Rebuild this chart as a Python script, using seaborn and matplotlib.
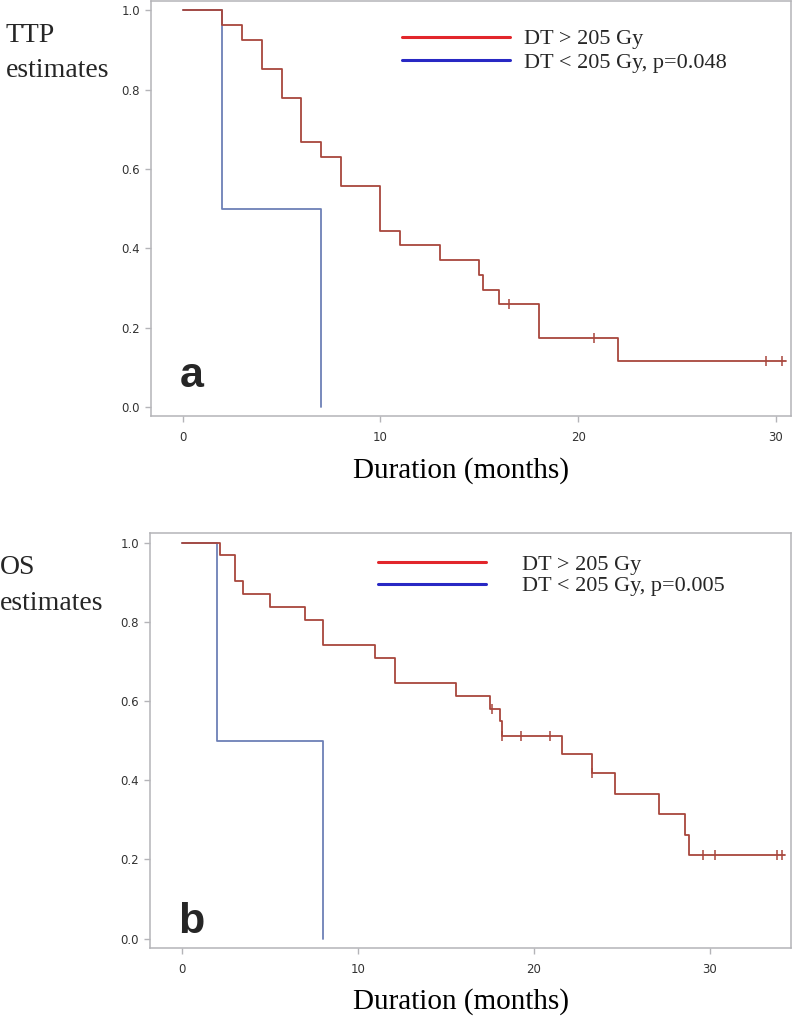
import numpy as np
import pandas as pd
import matplotlib
matplotlib.use("Agg")
import matplotlib.pyplot as plt
import seaborn as sns
from matplotlib.lines import Line2D

# TTP, DT > 205 Gy (Kaplan-Meier steps)
ttp_hi_time = [0, 2, 3, 4, 5, 6, 7, 8, 10, 11, 13, 15, 15.2, 16, 18, 22, 30.5]
ttp_hi_surv = [1.0, 0.963, 0.926, 0.852, 0.778, 0.667, 0.630, 0.556, 0.444,
               0.407, 0.370, 0.333, 0.296, 0.259, 0.173, 0.115, 0.115]
ttp_hi_cens_time = [16.5, 20.8, 29.5, 30.3]
ttp_hi_cens_surv = [0.259, 0.173, 0.115, 0.115]
# TTP, DT < 205 Gy
ttp_lo_time = [0, 2, 7]
ttp_lo_surv = [1.0, 0.5, 0.0]

# OS, DT > 205 Gy
os_hi_time = [0, 2.2, 3.0, 3.5, 5.0, 7.0, 8.0, 11.0, 12.1, 15.6, 17.5, 18.1,
              18.2, 21.6, 23.3, 24.6, 27.1, 28.6, 28.8, 34.3]
os_hi_surv = [1.0, 0.968, 0.903, 0.871, 0.839, 0.806, 0.742, 0.710, 0.645,
              0.613, 0.581, 0.549, 0.513, 0.467, 0.419, 0.366, 0.314, 0.261,
              0.210, 0.210]
os_hi_cens_time = [17.6, 18.2, 19.3, 20.9, 23.3, 29.6, 30.3, 33.8, 34.1]
os_hi_cens_surv = [0.581, 0.513, 0.513, 0.513, 0.419, 0.210, 0.210, 0.210, 0.210]
# OS, DT < 205 Gy
os_lo_time = [0, 2, 8]
os_lo_surv = [1.0, 0.5, 0.0]

legend_labels_ttp = ["DT > 205 Gy", "DT < 205 Gy, p=0.048"]
legend_labels_os = ["DT > 205 Gy", "DT < 205 Gy, p=0.005"]

sns.set_theme(style="ticks")
plt.rcParams['font.family'] = ['DejaVu Sans']

red_curve = "#A8473D"
blue_curve = "#6D80B6"
spine_col = "#B4B4B8"
serif = "Liberation Serif"

fig = plt.figure(figsize=(7.93, 10.18), dpi=100)
ax1 = fig.add_axes([0.1904, 0.5914, 0.8067, 0.4077])
ax2 = fig.add_axes([0.1892, 0.0691, 0.8080, 0.4070])


def km_panel(ax, hi_t, hi_s, ct, cs, lo_t, lo_s, xmax, xticks):
    hi = pd.DataFrame({"time": hi_t, "surv": hi_s})
    lo = pd.DataFrame({"time": lo_t, "surv": lo_s})
    cens = pd.DataFrame({"time": ct, "surv": cs})
    sns.lineplot(data=lo, x="time", y="surv", ax=ax, color=blue_curve, lw=1.3,
                 drawstyle="steps-post", estimator=None, sort=False)
    sns.lineplot(data=hi, x="time", y="surv", ax=ax, color=red_curve, lw=1.3,
                 drawstyle="steps-post", estimator=None, sort=False)
    sns.scatterplot(data=cens, x="time", y="surv", ax=ax, marker="|", s=45,
                    color=red_curve, linewidth=1.1)
    ax.set_xlim(xmax[0], xmax[1])
    ax.set_ylim(-0.023, 1.024)
    ax.set_xticks(xticks)
    ax.set_yticks([0, 0.2, 0.4, 0.6, 0.8, 1.0])
    ax.set_yticklabels(["0.0", "0.2", "0.4", "0.6", "0.8", "1.0"])
    ax.tick_params(axis="both", colors=spine_col, labelcolor="#333333",
                   labelsize=8.5, length=4.5, width=1)
    ax.tick_params(axis="x", pad=6.5)
    ax.tick_params(axis="y", pad=3.5)
    for sp in ax.spines.values():
        sp.set_color(spine_col)
        sp.set_linewidth(1.1)
    ax.set_ylabel("")
    ax.set_xlabel("Duration (months)", fontsize=21, family=serif, color="black")
    ax.xaxis.set_label_coords(0.485, -0.098)
    ax.xaxis.label.set_va("top")


km_panel(ax1, ttp_hi_time, ttp_hi_surv, ttp_hi_cens_time, ttp_hi_cens_surv,
         ttp_lo_time, ttp_lo_surv, (-1.6, 30.75), [0, 10, 20, 30])
km_panel(ax2, os_hi_time, os_hi_surv, os_hi_cens_time, os_hi_cens_surv,
         os_lo_time, os_lo_surv, (-1.8, 34.6), [0, 10, 20, 30])

handles = [Line2D([], [], color="#E2262B", lw=2.2),
           Line2D([], [], color="#2828C4", lw=2.2)]
ax1.legend(handles, legend_labels_ttp, loc="upper left",
           bbox_to_anchor=(0.392, 0.933), frameon=False, borderpad=0,
           borderaxespad=0, handlelength=4.86, handletextpad=0.63,
           labelspacing=0.12, prop={"family": serif, "size": 16})
ax2.legend(handles, legend_labels_os, loc="upper left",
           bbox_to_anchor=(0.356, 0.950), frameon=False, borderpad=0,
           borderaxespad=0, handlelength=4.86, handletextpad=1.62,
           labelspacing=0.06, prop={"family": serif, "size": 16})

ax1.text(-0.17, 0.049, "a", fontsize=31, fontweight="bold",
         family="Liberation Sans", ha="left", va="baseline")
ax2.text(-0.2, 0.015, "b", fontsize=31, fontweight="bold",
         family="Liberation Sans", ha="left", va="baseline")

fig.text(0.007, 0.977, "TTP\nestimates", fontsize=20, family=serif,
         va="top", ha="left", linespacing=1.5)
fig.text(0.0, 0.455, "OS\nestimates", fontsize=20, family=serif,
         va="top", ha="left", linespacing=1.6)

fig.savefig("out.png", dpi=100)
